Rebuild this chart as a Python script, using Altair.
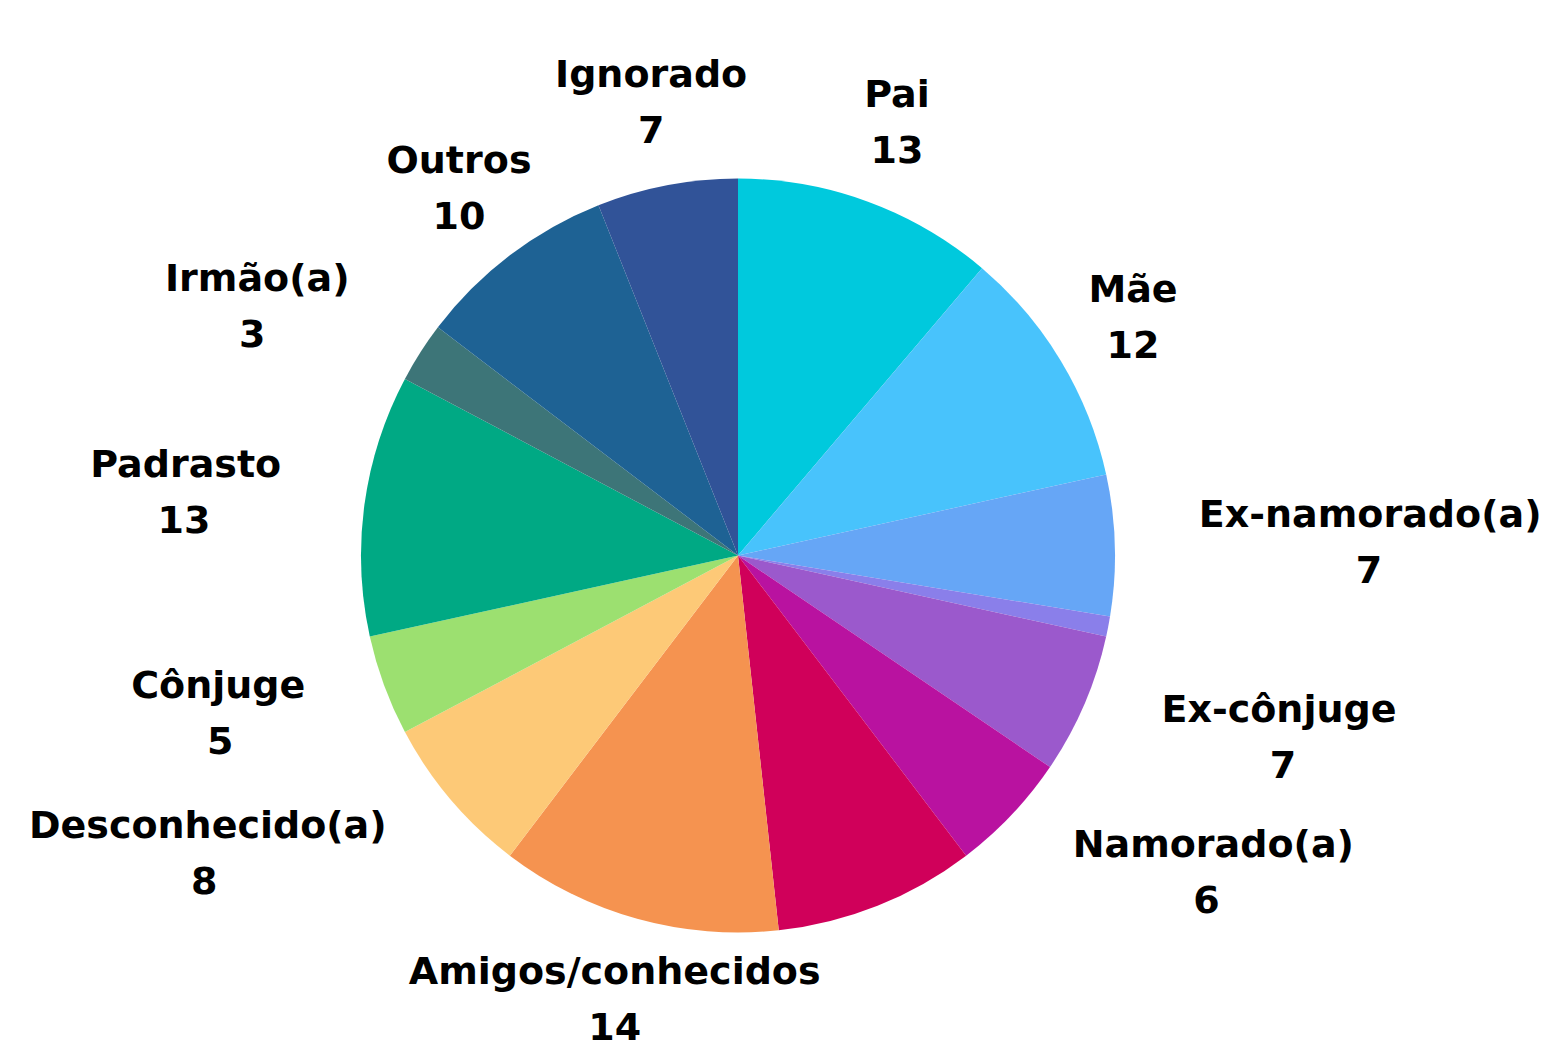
import altair as alt
import pandas as pd

categories = ["Pai", "Mãe", "Ex-namorado(a)", "sem rótulo 1", "Ex-cônjuge", "Namorado(a)",
              "sem rótulo 2", "Amigos/conhecidos", "Desconhecido(a)", "Cônjuge", "Padrasto",
              "Irmão(a)", "Outros", "Ignorado"]
values = [13, 12, 7, 1, 7, 6, 10, 14, 8, 5, 13, 3, 10, 7]
show_label = [1, 1, 1, 0, 1, 1, 0, 1, 1, 1, 1, 1, 1, 1]
colors = ["#00C9DD", "#48C3FC", "#66A6F6", "#8A7FEA", "#9B59CC", "#B912A0",
          "#D0005A", "#F59350", "#FDC977", "#9CE070", "#00A984", "#3D7578",
          "#1E6294", "#315398"]

df = pd.DataFrame({
    "categoria": categories,
    "valor": values,
    "mostrar": show_label,
    "ordem": list(range(len(categories))),
})

W, H = 1460, 951
R_PIE = 377
R_LAB = 461
FS = 38

base = alt.Chart(df)

pie = base.mark_arc(outerRadius=R_PIE).encode(
    theta=alt.Theta("valor:Q", stack=True),
    order=alt.Order("ordem:Q", sort="ascending"),
    color=alt.Color("categoria:N", scale=alt.Scale(domain=categories, range=colors), legend=None),
)

lab = base.transform_joinaggregate(
    total="sum(valor)"
).transform_window(
    cum="sum(valor)", sort=[alt.SortField("ordem", order="ascending")], frame=[None, 0]
).transform_calculate(
    mid="2*PI*(datum.cum - datum.valor/2)/datum.total"
).transform_calculate(
    deg="datum.mid*180/PI",
    ax=f"{R_LAB}*sin(datum.mid)",
    ay=f"{R_LAB}*cos(datum.mid)",
).transform_calculate(
    al="(datum.deg>=80 && datum.deg<=150) ? 'left' : ((datum.deg>=210 && datum.deg<=310) ? 'right' : 'center')",
    hw=f"length(datum.categoria)*0.32*{FS}",
).transform_calculate(
    vx="datum.al=='left' ? datum.ax + datum.hw : (datum.al=='right' ? datum.ax - datum.hw : datum.ax)"
).transform_filter("datum.mostrar == 1")

xs = alt.Scale(domain=[-W / 2, W / 2], zero=False, nice=False)
ys = alt.Scale(domain=[-H / 2, H / 2], zero=False, nice=False)

font = dict(font="DejaVu Sans", fontWeight="bold", fontSize=FS, color="#000000", baseline="alphabetic")

layers = [pie]
for a in ["left", "right", "center"]:
    layers.append(
        lab.transform_filter(f"datum.al == '{a}'").mark_text(align=a, dy=-16, **font).encode(
            x=alt.X("ax:Q", scale=xs, axis=None),
            y=alt.Y("ay:Q", scale=ys, axis=None),
            text="categoria:N",
        )
    )
layers.append(
    lab.mark_text(align="center", dy=40, **font).encode(
        x=alt.X("vx:Q", scale=xs, axis=None),
        y=alt.Y("ay:Q", scale=ys, axis=None),
        text="valor:Q",
    )
)

chart = alt.layer(*layers).properties(
    width=W, height=H,
    autosize=alt.AutoSizeParams(type="none"),
    padding={"left": 0, "top": 72, "right": 80, "bottom": 18},
    background="white",
).configure_view(stroke=None)

chart.save("out.html", embed_options={"renderer": "svg", "actions": False})
